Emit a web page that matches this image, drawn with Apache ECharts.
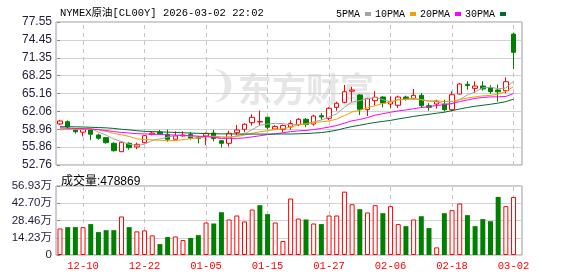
<!DOCTYPE html>
<html><head><meta charset="utf-8">
<script src="https://cdn.jsdelivr.net/npm/echarts@6/dist/echarts.min.js"></script>
<style>html,body{margin:0;padding:0;background:#fff}#c{width:578px;height:276px}</style>
</head><body><div id="c"></div>
<script>
const dates = ['12-05','12-08','12-09','12-10','12-11','12-12','12-15','12-16','12-17','12-18',
 '12-19','12-22','12-23','12-24','12-26','12-29','12-30','12-31','01-02','01-05',
 '01-06','01-07','01-08','01-09','01-12','01-13','01-14','01-15','01-16','01-19',
 '01-20','01-21','01-22','01-23','01-26','01-27','01-28','01-29','01-30','02-02',
 '02-03','02-04','02-05','02-06','02-09','02-10','02-11','02-12','02-13','02-16',
 '02-17','02-18','02-19','02-20','02-23','02-24','02-25','02-26','02-27','03-02'];
const opens = [59.87,60.27,59.00,58.45,58.83,57.96,57.50,56.52,55.07,56.52,
 55.90,56.63,58.10,58.50,58.08,57.22,57.80,58.08,57.60,57.80,
 58.30,56.97,56.52,58.36,58.95,60.10,60.22,61.03,59.00,58.95,
 59.35,59.75,60.68,59.87,61.30,60.86,62.76,63.63,65.55,64.90,
 62.35,63.91,64.55,63.33,63.11,64.55,64.25,64.84,63.04,63.33,
 63.33,62.35,65.07,66.75,66.05,66.45,66.16,65.75,65.64,75.45];
const closes = [60.39,59.35,58.53,59.00,58.10,57.40,56.63,55.24,56.70,55.76,
 56.35,57.84,58.30,58.20,57.22,57.80,57.95,57.40,57.35,58.25,
 57.35,56.52,58.26,58.83,59.82,61.03,60.30,59.30,59.45,59.60,
 59.95,60.68,59.78,61.25,61.10,62.59,63.46,65.47,65.75,62.42,
 64.25,64.50,63.51,63.80,64.55,64.20,64.84,63.04,62.76,63.80,
 62.35,64.95,66.80,66.55,66.45,65.95,65.50,65.45,67.20,72.30];
const lows = [59.70,59.00,58.20,57.70,57.10,57.15,56.45,55.07,55.00,55.40,
 55.50,56.50,57.90,58.00,56.80,57.20,57.70,57.15,56.50,56.20,
 56.85,55.80,55.95,57.95,58.45,59.60,59.60,58.95,58.90,58.50,
 58.90,59.50,59.30,59.57,60.60,60.56,62.17,63.46,63.73,61.43,
 61.25,63.11,62.76,62.64,62.64,63.91,64.08,62.64,62.17,62.52,
 62.06,62.06,64.95,65.82,65.24,65.65,65.07,63.75,65.19,69.40];
const highs = [60.60,60.50,59.10,59.15,59.00,58.20,57.60,56.70,56.80,56.70,
 56.62,57.95,58.50,58.85,58.90,58.60,58.60,58.50,57.80,58.40,
 58.85,57.10,58.70,59.70,60.00,61.55,62.20,61.10,59.65,59.75,
 60.50,60.90,60.90,61.48,61.75,62.76,63.73,66.63,66.33,65.07,
 64.40,65.54,64.67,64.67,64.78,64.78,65.94,65.24,63.50,64.08,
 64.08,65.54,66.98,67.27,67.27,67.27,66.60,66.70,67.96,75.70];
// volume in 万 (10,000 contracts)
const volumes = [21.9,23.0,23.0,23.0,25.5,18.9,20.5,20.5,31.8,23.0,
 19.5,20.3,16.2,9.0,14.8,15.3,12.3,14.0,16.4,26.8,
 26.0,35.3,29.3,32.6,27.7,37.5,41.1,33.7,26.8,11.5,
 46.6,30.1,29.3,26.0,25.5,32.6,32.6,52.3,41.9,37.8,
 35.1,41.1,34.5,40.3,25.5,23.8,29.3,32.0,22.2,6.3,
 34.5,37.0,42.5,32.9,23.8,29.6,27.9,47.9,40.3,47.8869];
const lastVolumeRaw = 478869;
const labelDates = ['12-10','12-22','01-05','01-15','01-27','02-06','02-18','03-02'];
const priceTicks = [52.76,55.86,58.96,62.06,65.16,68.25,71.35,74.45,77.55];
const volumeTicks = [0,14.23,28.46,42.70,56.93];
const ma5Head = [58.85,58.95,59.00,59.05];
const ma10Head = [59.00,59.00,58.95,58.95,59.00,58.85,58.60,58.23,58.00];
const ma20Head = [59.20,59.15,59.10,59.05,59.00,58.90,58.75,58.55,58.40,58.30,
 58.20,58.15,58.10,58.05,58.00,57.95,57.90,57.85,57.75];
const ma30Head = [59.40,59.40,59.38,59.35,59.30,59.25,59.20,59.10,58.95,58.85,
 58.70,58.60,58.55,58.50,58.45,58.40,58.35,58.30,58.25,58.20,
 58.18,58.16,58.15,58.14,58.13,58.12,58.12,58.12,58.12];
const maNames = ['5PMA','10PMA','20PMA','30PMA'];
const maColors = ['#a5a5a5','#f0a000','#ff00ff','#006a32'];
const titleText = 'NYMEX原油[CL00Y] 2026-03-02 22:02';

function movingAvg(n, head) {
  return closes.map((c, i) => {
    if (i < n - 1) return head[i];
    let s = 0; for (let k = i - n + 1; k <= i; k++) s += closes[k];
    return +(s / n).toFixed(3);
  });
}
const maData = [movingAvg(5, ma5Head), movingAvg(10, ma10Head), movingAvg(20, ma20Head), movingAvg(30, ma30Head)];
const labelIdx = labelDates.map(d => dates.indexOf(d));

const RED = '#ff0000', GREEN = '#008000';
const candleData = dates.map((d, i) => [i, opens[i], closes[i], lows[i], highs[i]]);
const volData = volumes.map((v, i) => {
  const up = i === 0 ? closes[i] >= opens[i] : closes[i] >= closes[i - 1];
  return { value: [i, v], itemStyle: up ? { color: '#fff', borderColor: RED, borderWidth: 1 } : { color: GREEN } };
});
const dashedVerticals = {
  symbol: 'none', silent: true, animation: false, label: { show: false }, z: 1,
  lineStyle: { color: '#c4c4c4', type: [4, 4], width: 1 },
  emphasis: { disabled: true },
  data: labelIdx.map(i => ({ xAxis: i }))
};

const chart = echarts.init(document.getElementById('c'), null, { renderer: 'canvas' });
const monoFont = '"Liberation Mono", "Noto Sans CJK SC", monospace';
const xCommon = {
  type: 'value', min: -0.52, max: 60.1,
  axisLine: { show: false },
  axisTick: { show: false, customValues: labelIdx },
  splitLine: { show: false }
};
const option = {
  animation: false,
  backgroundColor: '#fff',
  title: [
    { text: titleText, left: 55, top: 3, textStyle: { fontFamily: monoFont, fontSize: 10.5, fontWeight: 'normal', color: '#000' } },
    { text: '成交量:' + lastVolumeRaw, left: 56, top: 171, textStyle: { fontFamily: '"Liberation Sans", "Noto Sans CJK SC", sans-serif', fontSize: 12, fontWeight: 'normal', color: '#000' } }
  ],
  legend: {
    data: maNames, right: 67, top: 4, align: 'right', icon: 'rect', itemWidth: 6, itemHeight: 4, itemGap: 4,
    textStyle: { fontFamily: monoFont, fontSize: 10, color: '#000' }, selectedMode: false
  },
  graphic: [
    { type: 'text', left: 238, top: 72, z: 0, silent: true,
      style: { text: '东方财富', fontSize: 34, fontWeight: 'bold', fontFamily: '"Noto Sans CJK SC"', fill: '#e6e6e6' } },
    { type: 'text', left: 208, top: 70, z: 0, silent: true,
      style: { text: '❩', fontSize: 36, fontWeight: 'bold', fontFamily: '"DejaVu Sans"', fill: '#e6e6e6' } }
  ],
  grid: [
    { left: 56, width: 466, top: 22, height: 143, show: true, borderColor: '#9a9a9a', borderWidth: 1, backgroundColor: 'transparent' },
    { left: 56, width: 466, top: 186, height: 69, show: true, borderColor: '#9a9a9a', borderWidth: 1, backgroundColor: 'transparent' }
  ],
  xAxis: [
    Object.assign({}, xCommon, { gridIndex: 0, axisLabel: { show: false, customValues: labelIdx } }),
    Object.assign({}, xCommon, { gridIndex: 1, axisLabel: { show: true, customValues: labelIdx, margin: 6,
      formatter: v => dates[Math.round(v)], color: '#ff0000', fontFamily: monoFont, fontSize: 10.5 } })
  ],
  yAxis: [
    { gridIndex: 0, type: 'value', min: priceTicks[0], max: priceTicks[priceTicks.length - 1],
      axisLine: { show: false },
      axisTick: { show: true, inside: false, length: 3, customValues: priceTicks, lineStyle: { color: '#888' } },
      axisLabel: { customValues: priceTicks, formatter: v => v.toFixed(2), margin: 4, color: '#1e1e3c', fontSize: 12, fontFamily: '"Liberation Sans", Arial, sans-serif' },
      splitLine: { show: true, lineStyle: { color: '#d2d2d2', width: 1 } } },
    { gridIndex: 1, type: 'value', min: 0, max: volumeTicks[volumeTicks.length - 1],
      axisLine: { show: false },
      axisTick: { show: true, length: 3, customValues: volumeTicks, lineStyle: { color: '#888' } },
      axisLabel: { customValues: volumeTicks, formatter: v => v === 0 ? '0' : v.toFixed(2) + '万', margin: 4, color: '#1e1e3c', fontSize: 11.5, fontFamily: '"Liberation Sans", "Noto Sans CJK SC", sans-serif' },
      splitLine: { show: true, lineStyle: { color: '#d2d2d2', width: 1 } } }
  ],
  series: [
    { type: 'candlestick', name: 'K', xAxisIndex: 0, yAxisIndex: 0, data: candleData, encode: { x: 0, y: [1, 2, 3, 4] },
      barWidth: 5, z: 2, markLine: dashedVerticals,
      itemStyle: { color: '#fff', color0: GREEN, borderColor: RED, borderColor0: GREEN, borderWidth: 1 } }
  ].concat(maNames.map((n, k) => ({
      type: 'line', name: n, xAxisIndex: 0, yAxisIndex: 0, showSymbol: false, symbol: 'none', z: 3,
      data: maData[k].map((v, i) => [i, v]), lineStyle: { color: maColors[k], width: 1 }, itemStyle: { color: maColors[k] }
  }))).concat([
    { type: 'bar', name: 'VOL', xAxisIndex: 1, yAxisIndex: 1, data: volData, barWidth: 5, markLine: dashedVerticals }
  ])
};
chart.setOption(option);
</script></body></html>
